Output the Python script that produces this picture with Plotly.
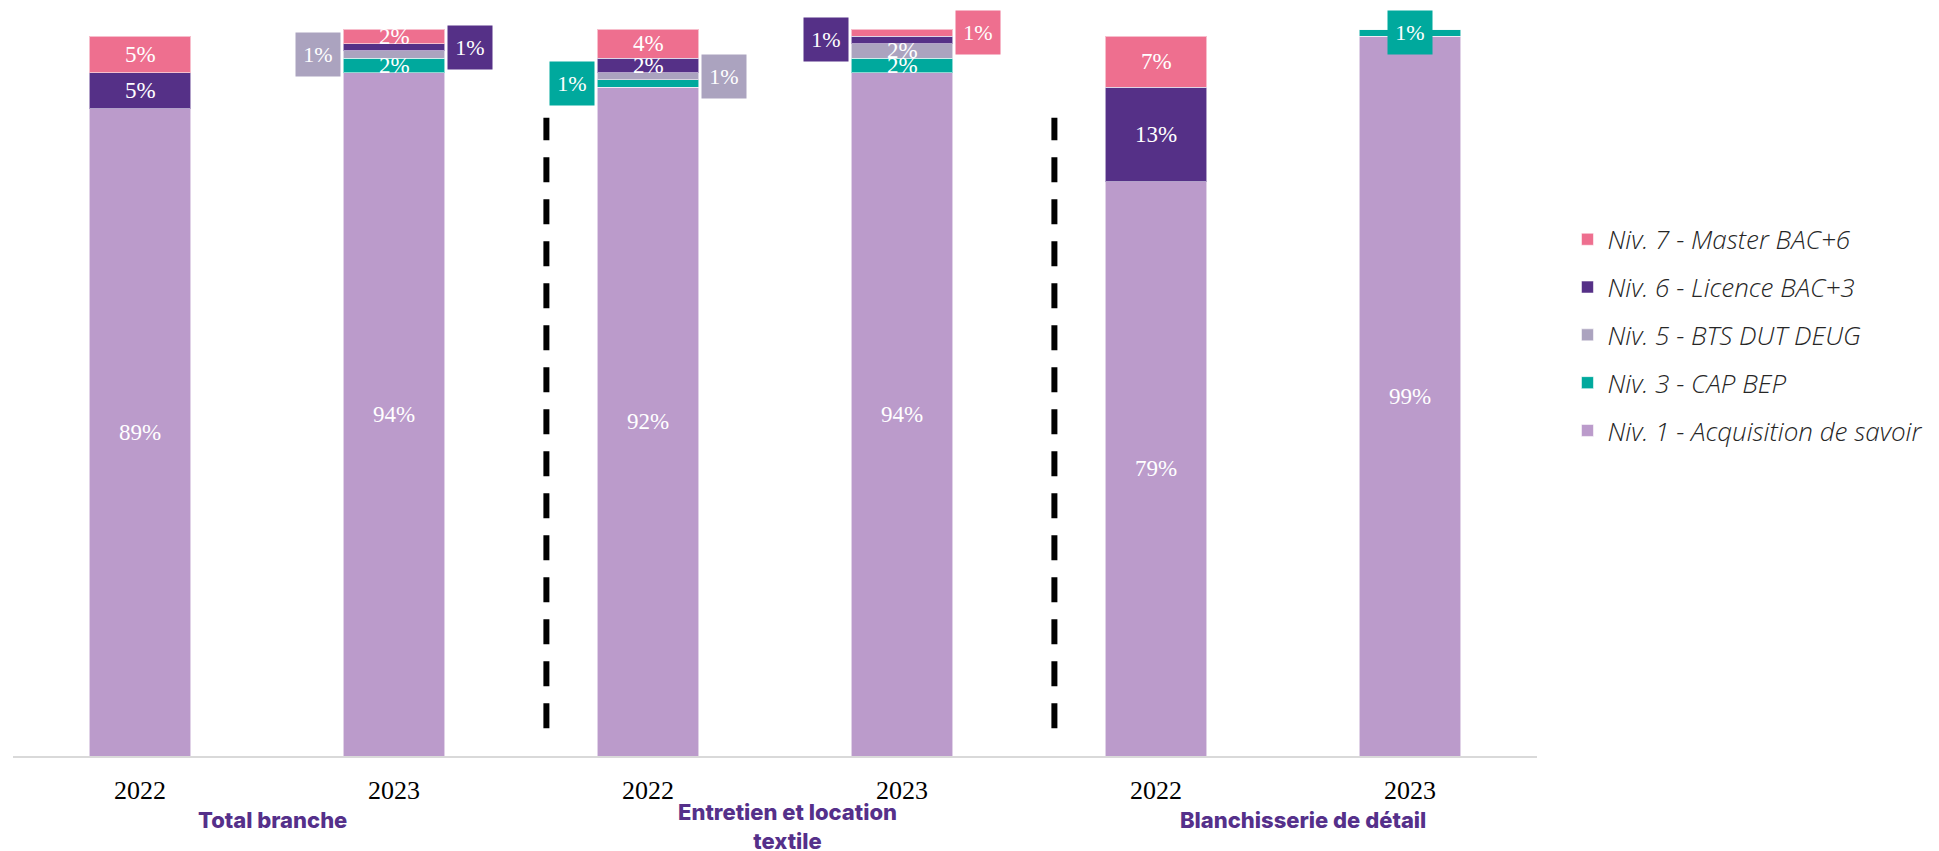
import plotly.graph_objects as go

# Categories
groups = ["Total branche", "Entretien et location<br>textile", "Blanchisserie de détail"]
years = ["2022", "2023", "2022", "2023", "2022", "2023"]

# Share of training hours by qualification level (%)
niv1 = [89, 94, 92, 94, 79, 99]
niv3 = [0, 2, 1, 2, 0, 1]
niv5 = [0, 1, 1, 2, 0, 0]
niv6 = [5, 1, 2, 1, 13, 0]
niv7 = [5, 2, 4, 1, 7, 0]

names = [
    "Niv. 1 - Acquisition de savoir",
    "Niv. 3 - CAP BEP",
    "Niv. 5 - BTS DUT DEUG",
    "Niv. 6 - Licence BAC+3",
    "Niv. 7 - Master BAC+6",
]
colors = ["#bb9bcb", "#00a99d", "#aba3bf", "#553087", "#ee6f8f"]
values = [niv1, niv3, niv5, niv6, niv7]

# Thin segments get their label in a coloured tag next to the bar
callouts = {
    (2, 1): "left", (3, 1): "right",
    (1, 2): "left", (2, 2): "right",
    (3, 3): "left", (4, 3): "right",
    (1, 5): "center",
}

BAR_W = 0.4
SERIF = "Liberation Serif"
x = list(range(len(years)))

fig = go.Figure()
for s, (name, vals, col) in enumerate(zip(names, values, colors)):
    fig.add_trace(go.Bar(
        x=x, y=vals, name=name, width=BAR_W,
        marker=dict(color=col, line=dict(color="rgba(255,255,255,0.55)", width=1)),
        legendgroup=name, legendrank=len(names) - s, hoverinfo="skip",
    ))

annotations = []
base = [0] * len(x)
for s, (vals, col) in enumerate(zip(values, colors)):
    for i, v in enumerate(vals):
        if v == 0:
            continue
        mid = base[i] + v / 2
        side = callouts.get((s, i))
        txt = f"{v}%"
        if side is None:
            annotations.append(dict(
                x=i, y=mid, xref="x", yref="y", text=txt, showarrow=False,
                font=dict(family=SERIF, size=23, color="white"),
            ))
        else:
            if side == "left":
                ax, anchor, shift = i - BAR_W / 2, "right", -2
            elif side == "right":
                ax, anchor, shift = i + BAR_W / 2, "left", 2
            else:
                ax, anchor, shift = i, "center", 0
            annotations.append(dict(
                x=ax, y=mid, xref="x", yref="y", text=txt, showarrow=False,
                xanchor=anchor, yanchor="middle", xshift=shift,
                width=42, height=41, borderpad=1, bgcolor=col,
                font=dict(family=SERIF, size=22, color="white"),
            ))
        base[i] += v

# Group captions under the year labels
group_x = [0.52, 2.55, 4.58]
group_y = [-0.068, -0.056, -0.068]
for gx, gy, g in zip(group_x, group_y, groups):
    annotations.append(dict(
        x=gx, y=gy, xref="x", yref="paper", text=g, showarrow=False,
        xanchor="center", yanchor="top",
        font=dict(family="Inter", size=22, color="#55308a", weight=800),
    ))

# Dashed separators between groups
shapes = []
for sx in [1.6, 3.6]:
    shapes.append(dict(
        type="line", xref="x", yref="paper", x0=sx, x1=sx, y0=0.038, y1=0.878,
        line=dict(color="black", width=6, dash="25px,17px"),
    ))

fig.update_layout(
    barmode="stack",
    width=1939, height=851,
    margin=dict(l=13, r=402, t=29, b=95, autoexpand=False),
    paper_bgcolor="white", plot_bgcolor="white",
    annotations=annotations, shapes=shapes,
    showlegend=True,
    legend=dict(
        x=1.02, xanchor="left", y=0.743, yanchor="top",
        traceorder="grouped", tracegroupgap=11,
        font=dict(family="Open Sans", size=26, color="#262626", style="italic", weight=300),
        bgcolor="rgba(0,0,0,0)",
    ),
    xaxis=dict(
        range=[-0.5, 5.5], tickvals=x, ticktext=years,
        showline=True, linecolor="#d9d9d9", linewidth=2,
        showgrid=False, zeroline=False, ticks="",
        tickfont=dict(family=SERIF, size=26, color="black"),
        ticklabelstandoff=10,
    ),
    yaxis=dict(range=[0, 100], visible=False, showgrid=False, zeroline=False),
)

fig.write_html("out.html")
